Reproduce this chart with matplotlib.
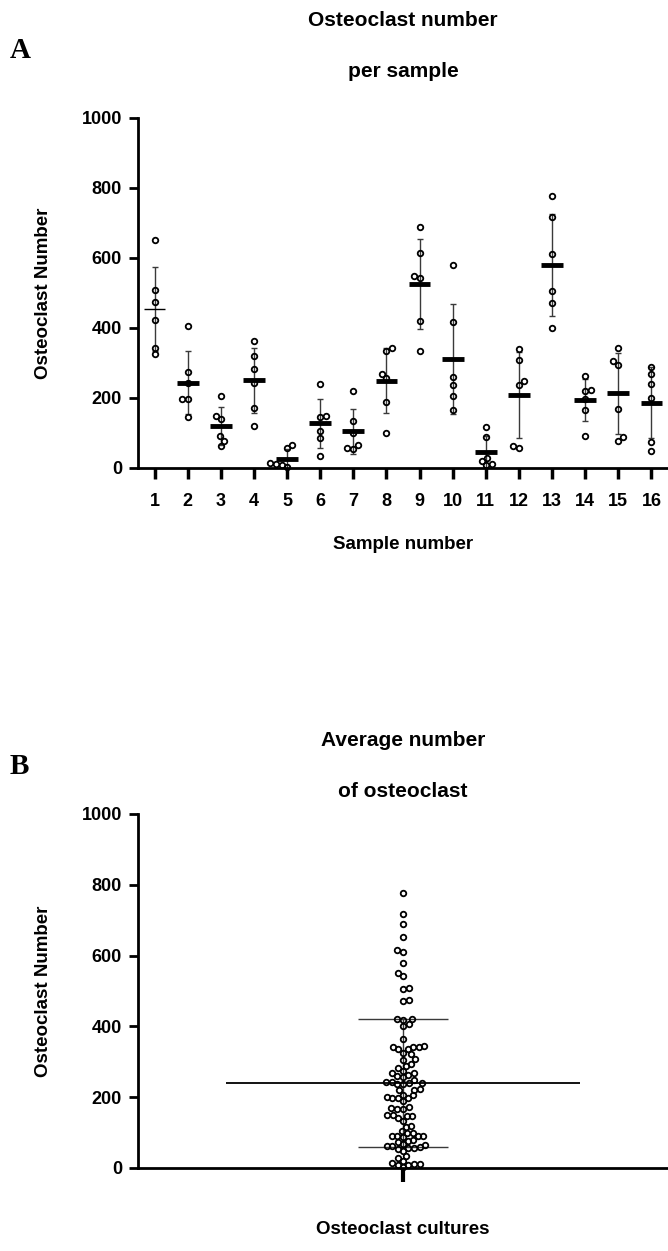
import numpy as np
import matplotlib
matplotlib.use("Agg")
import matplotlib.pyplot as plt

plt.rcParams['font.family'] = ['Liberation Sans', 'DejaVu Sans']

# ---- data ----
sample_numbers = list(range(1, 17))
sample_01 = [652, 508, 474, 422, 343, 325]
sample_02 = [406, 274, 244, 197, 197, 146]
sample_03 = [206, 149, 141, 91, 77, 62]
sample_04 = [363, 321, 283, 243, 171, 120]
sample_05 = [67, 58, 13, 11, 9, 2]
sample_06 = [239, 150, 147, 105, 87, 35]
sample_07 = [219, 133, 99, 65, 56, 55]
sample_08 = [344, 335, 269, 257, 188, 99]
sample_09 = [688, 615, 550, 543, 420, 335]
sample_10 = [580, 418, 261, 237, 205, 167]
sample_11 = [116, 89, 29, 21, 11, 9]
sample_12 = [341, 308, 248, 237, 62, 56]
sample_13 = [776, 717, 611, 505, 472, 401]
sample_14 = [263, 224, 221, 198, 167, 91]
sample_15 = [342, 305, 295, 170, 89, 78]
sample_16 = [288, 269, 241, 200, 74, 49]
samples = [sample_01, sample_02, sample_03, sample_04, sample_05, sample_06,
           sample_07, sample_08, sample_09, sample_10, sample_11, sample_12,
           sample_13, sample_14, sample_15, sample_16]
y_ticks = [0, 200, 400, 600, 800, 1000]

W, H = 668, 1251
fig = plt.figure(figsize=(W / 100, H / 100), dpi=100)


def ax_rect(left, top, right, bottom):
    return [left / W, 1 - bottom / H, (right - left) / W, (bottom - top) / H]


def swarm(ax, xc, ys, d):
    """Beeswarm offsets computed in display pixels."""
    ys = np.asarray(ys, float)
    pts = ax.transData.transform(np.column_stack([np.full(len(ys), xc), ys]))
    cx = pts[0, 0]
    py = pts[:, 1]
    order = np.argsort(py)
    placed = []
    xs_px = np.zeros(len(ys))
    for i in order:
        y = py[i]
        cands = [0.0]
        for (px, qy) in placed:
            dy = abs(y - qy)
            if dy < d:
                dx = np.sqrt(d * d - dy * dy)
                cands += [px + dx, px - dx]
        cands = sorted(set(np.round(cands, 4)), key=lambda c: (abs(c), c))
        for c in cands:
            ok = all((c - px) ** 2 + (y - qy) ** 2 >= d * d - 1e-6 for (px, qy) in placed)
            if ok:
                break
        placed.append((c, y))
        xs_px[i] = c
    back = ax.transData.inverted().transform(np.column_stack([cx + xs_px, py]))
    return back[:, 0]


def style_axes(ax):
    for s in ['top', 'right']:
        ax.spines[s].set_visible(False)
    for s in ['left', 'bottom']:
        ax.spines[s].set_linewidth(2.0)
    ax.tick_params(axis='y', direction='out', length=6.5, width=2.0, pad=5,
                   labelsize=13)
    ax.tick_params(axis='x', direction='out', length=8, width=2.5, pad=10,
                   labelsize=13)
    for lab in ax.get_xticklabels() + ax.get_yticklabels():
        lab.set_fontweight('bold')


# ---------------- Panel A ----------------
axA = fig.add_axes(ax_rect(138, 118, 668, 468))
axA.set_xlim(0.5, 16.5)
axA.set_ylim(0, 1000)
axA.set_xticks(sample_numbers)
axA.set_xticklabels([str(n) for n in sample_numbers])
axA.set_yticks(y_ticks)
axA.set_yticklabels([str(t) for t in y_ticks])
style_axes(axA)

for n, vals in zip(sample_numbers, samples):
    v = np.asarray(vals, float)
    m, sd = v.mean(), v.std(ddof=1)
    axA.errorbar([n], [m], yerr=[sd], fmt='none', ecolor='#3a3a3a',
                 elinewidth=1.0, capsize=2.5, capthick=1.0, zorder=2)
    lw = 1.0 if n == 1 else 3.5
    axA.hlines(m, n - 0.33, n + 0.33, color='black', lw=lw, zorder=3)
    xs = swarm(axA, n, v, 6.0)
    axA.plot(xs, v, 'o', ms=4.0, mfc='none', mec='black', mew=1.3,
             zorder=4, clip_on=False)

axA.set_ylabel('Osteoclast Number', fontsize=13.5, fontweight='bold')
axA.yaxis.set_label_coords(-0.162, 0.5)
axA.set_xlabel('Sample number', fontsize=13.5, fontweight='bold')
axA.xaxis.set_label_coords(0.5, -0.195)

fig.text(403 / W, 1 - 46 / H, 'Osteoclast number\nper sample', ha='center',
         va='center', fontsize=15, fontweight='bold', linespacing=3.1)
fig.text(10 / W, 1 - 50 / H, 'A', ha='left', va='center', fontsize=21,
         fontweight='bold', family='Liberation Serif')

# ---------------- Panel B ----------------
all_values = np.concatenate([np.asarray(s, float) for s in samples])
axB = fig.add_axes(ax_rect(138, 814, 668, 1168))
axB.set_xlim(-1, 1)
axB.set_ylim(0, 1000)
axB.set_xticks([0])
axB.set_xticklabels([''])
axB.set_yticks(y_ticks)
axB.set_yticklabels([str(t) for t in y_ticks])
style_axes(axB)
axB.tick_params(axis='x', length=10, width=3)

mB, sdB = all_values.mean(), all_values.std(ddof=1)
axB.vlines(0, mB - sdB, mB + sdB, color='#3a3a3a', lw=1.0, zorder=2)
axB.hlines([mB - sdB, mB + sdB], -0.17, 0.17, color='#3a3a3a', lw=1.0, zorder=2)
axB.hlines(mB, -0.668, 0.668, color='black', lw=1.3, zorder=3)
xsB = swarm(axB, 0, all_values, 5.8)
axB.plot(xsB, all_values, 'o', ms=4.0, mfc='none', mec='black', mew=1.3,
         zorder=4, clip_on=False)

axB.set_ylabel('Osteoclast Number', fontsize=13.5, fontweight='bold')
axB.yaxis.set_label_coords(-0.162, 0.5)
axB.set_xlabel('Osteoclast cultures', fontsize=13.5, fontweight='bold')
axB.xaxis.set_label_coords(0.5, -0.15)

fig.text(403 / W, 1 - 766 / H, 'Average number\nof osteoclast', ha='center',
         va='center', fontsize=15, fontweight='bold', linespacing=3.1)
fig.text(10 / W, 1 - 766 / H, 'B', ha='left', va='center', fontsize=21,
         fontweight='bold', family='Liberation Serif')

fig.savefig('out.png', dpi=100)
